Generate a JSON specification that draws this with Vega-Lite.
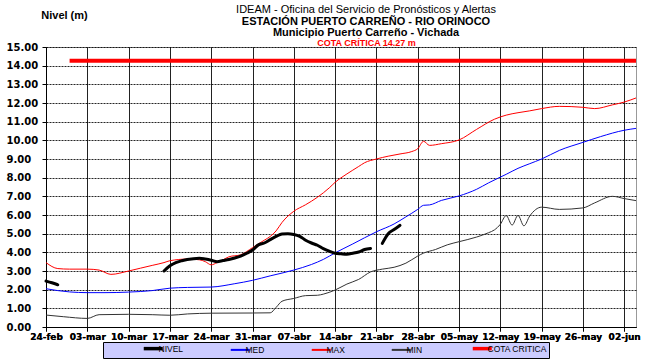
{
  "$schema": "https://vega.github.io/schema/vega-lite/v6.json",
  "width": 590,
  "height": 280,
  "autosize": "none",
  "padding": {"left": 46, "top": 47, "right": 19, "bottom": 33},
  "background": "white",
  "title": {
    "text": "IDEAM - Oficina del Servicio de Pronósticos y Alertas",
    "subtitle": ["ESTACIÓN PUERTO CARREÑO - RIO ORINOCO", "Municipio Puerto Carreño - Vichada"],
    "anchor": "middle",
    "frame": "group",
    "dx": 25,
    "offset": -29,
    "font": "Liberation Sans",
    "fontSize": 11,
    "fontWeight": "normal",
    "color": "#000",
    "subtitleFont": "Liberation Sans",
    "subtitleFontSize": 11,
    "subtitleFontWeight": "bold",
    "subtitleColor": "#000",
    "subtitlePadding": 1,
    "subtitleLineHeight": 11.5
  },
  "datasets": {
    "series": [
      {"d": "2015-02-24", "v": 2.46, "s": "NIVEL", "g": 1},
      {"d": "2015-02-25", "v": 2.37, "s": "NIVEL", "g": 1},
      {"d": "2015-02-26", "v": 2.26, "s": "NIVEL", "g": 1},
      {"d": "2015-03-16", "v": 3.0, "s": "NIVEL", "g": 2},
      {"d": "2015-03-17", "v": 3.28, "s": "NIVEL", "g": 2},
      {"d": "2015-03-18", "v": 3.45, "s": "NIVEL", "g": 2},
      {"d": "2015-03-19", "v": 3.55, "s": "NIVEL", "g": 2},
      {"d": "2015-03-21", "v": 3.66, "s": "NIVEL", "g": 2},
      {"d": "2015-03-22", "v": 3.68, "s": "NIVEL", "g": 2},
      {"d": "2015-03-23", "v": 3.64, "s": "NIVEL", "g": 2},
      {"d": "2015-03-24", "v": 3.58, "s": "NIVEL", "g": 2},
      {"d": "2015-03-25", "v": 3.5, "s": "NIVEL", "g": 2},
      {"d": "2015-03-26", "v": 3.56, "s": "NIVEL", "g": 2},
      {"d": "2015-03-27", "v": 3.62, "s": "NIVEL", "g": 2},
      {"d": "2015-03-28", "v": 3.7, "s": "NIVEL", "g": 2},
      {"d": "2015-03-29", "v": 3.8, "s": "NIVEL", "g": 2},
      {"d": "2015-03-30", "v": 3.95, "s": "NIVEL", "g": 2},
      {"d": "2015-03-31", "v": 4.12, "s": "NIVEL", "g": 2},
      {"d": "2015-04-01", "v": 4.4, "s": "NIVEL", "g": 2},
      {"d": "2015-04-02", "v": 4.5, "s": "NIVEL", "g": 2},
      {"d": "2015-04-03", "v": 4.68, "s": "NIVEL", "g": 2},
      {"d": "2015-04-04", "v": 4.85, "s": "NIVEL", "g": 2},
      {"d": "2015-04-05", "v": 4.98, "s": "NIVEL", "g": 2},
      {"d": "2015-04-06", "v": 5.0, "s": "NIVEL", "g": 2},
      {"d": "2015-04-07", "v": 4.96, "s": "NIVEL", "g": 2},
      {"d": "2015-04-08", "v": 4.86, "s": "NIVEL", "g": 2},
      {"d": "2015-04-09", "v": 4.65, "s": "NIVEL", "g": 2},
      {"d": "2015-04-10", "v": 4.5, "s": "NIVEL", "g": 2},
      {"d": "2015-04-11", "v": 4.38, "s": "NIVEL", "g": 2},
      {"d": "2015-04-12", "v": 4.2, "s": "NIVEL", "g": 2},
      {"d": "2015-04-13", "v": 4.06, "s": "NIVEL", "g": 2},
      {"d": "2015-04-14", "v": 3.95, "s": "NIVEL", "g": 2},
      {"d": "2015-04-15", "v": 3.92, "s": "NIVEL", "g": 2},
      {"d": "2015-04-16", "v": 3.9, "s": "NIVEL", "g": 2},
      {"d": "2015-04-17", "v": 3.95, "s": "NIVEL", "g": 2},
      {"d": "2015-04-18", "v": 4.02, "s": "NIVEL", "g": 2},
      {"d": "2015-04-19", "v": 4.15, "s": "NIVEL", "g": 2},
      {"d": "2015-04-20", "v": 4.21, "s": "NIVEL", "g": 2},
      {"d": "2015-04-22", "v": 4.48, "s": "NIVEL", "g": 3},
      {"d": "2015-04-23", "v": 5.0, "s": "NIVEL", "g": 3},
      {"d": "2015-04-24", "v": 5.22, "s": "NIVEL", "g": 3},
      {"d": "2015-04-25", "v": 5.45, "s": "NIVEL", "g": 3},

      {"d": "2015-02-24", "v": 2.05, "s": "MED", "g": 0},
      {"d": "2015-02-26", "v": 1.95, "s": "MED", "g": 0},
      {"d": "2015-02-28", "v": 1.88, "s": "MED", "g": 0},
      {"d": "2015-03-03", "v": 1.84, "s": "MED", "g": 0},
      {"d": "2015-03-06", "v": 1.84, "s": "MED", "g": 0},
      {"d": "2015-03-10", "v": 1.87, "s": "MED", "g": 0},
      {"d": "2015-03-14", "v": 1.95, "s": "MED", "g": 0},
      {"d": "2015-03-17", "v": 2.08, "s": "MED", "g": 0},
      {"d": "2015-03-20", "v": 2.12, "s": "MED", "g": 0},
      {"d": "2015-03-24", "v": 2.14, "s": "MED", "g": 0},
      {"d": "2015-03-28", "v": 2.32, "s": "MED", "g": 0},
      {"d": "2015-03-31", "v": 2.5, "s": "MED", "g": 0},
      {"d": "2015-04-03", "v": 2.74, "s": "MED", "g": 0},
      {"d": "2015-04-07", "v": 3.05, "s": "MED", "g": 0},
      {"d": "2015-04-10", "v": 3.35, "s": "MED", "g": 0},
      {"d": "2015-04-12", "v": 3.62, "s": "MED", "g": 0},
      {"d": "2015-04-14", "v": 3.97, "s": "MED", "g": 0},
      {"d": "2015-04-17", "v": 4.45, "s": "MED", "g": 0},
      {"d": "2015-04-21", "v": 5.1, "s": "MED", "g": 0},
      {"d": "2015-04-24", "v": 5.52, "s": "MED", "g": 0},
      {"d": "2015-04-26", "v": 5.9, "s": "MED", "g": 0},
      {"d": "2015-04-28", "v": 6.3, "s": "MED", "g": 0},
      {"d": "2015-04-29", "v": 6.52, "s": "MED", "g": 0},
      {"d": "2015-04-30", "v": 6.54, "s": "MED", "g": 0},
      {"d": "2015-05-02", "v": 6.78, "s": "MED", "g": 0},
      {"d": "2015-05-05", "v": 7.02, "s": "MED", "g": 0},
      {"d": "2015-05-08", "v": 7.38, "s": "MED", "g": 0},
      {"d": "2015-05-10", "v": 7.72, "s": "MED", "g": 0},
      {"d": "2015-05-13", "v": 8.18, "s": "MED", "g": 0},
      {"d": "2015-05-15", "v": 8.5, "s": "MED", "g": 0},
      {"d": "2015-05-17", "v": 8.75, "s": "MED", "g": 0},
      {"d": "2015-05-19", "v": 9.0, "s": "MED", "g": 0},
      {"d": "2015-05-22", "v": 9.46, "s": "MED", "g": 0},
      {"d": "2015-05-26", "v": 9.89, "s": "MED", "g": 0},
      {"d": "2015-05-29", "v": 10.2, "s": "MED", "g": 0},
      {"d": "2015-06-02", "v": 10.54, "s": "MED", "g": 0},
      {"d": "2015-06-04", "v": 10.64, "s": "MED", "g": 0},

      {"d": "2015-02-24", "v": 3.45, "s": "MAX", "g": 0},
      {"d": "2015-02-26", "v": 3.13, "s": "MAX", "g": 0},
      {"d": "2015-02-28", "v": 3.1, "s": "MAX", "g": 0},
      {"d": "2015-03-03", "v": 3.1, "s": "MAX", "g": 0},
      {"d": "2015-03-05", "v": 3.05, "s": "MAX", "g": 0},
      {"d": "2015-03-07", "v": 2.82, "s": "MAX", "g": 0},
      {"d": "2015-03-10", "v": 3.0, "s": "MAX", "g": 0},
      {"d": "2015-03-12", "v": 3.15, "s": "MAX", "g": 0},
      {"d": "2015-03-14", "v": 3.3, "s": "MAX", "g": 0},
      {"d": "2015-03-16", "v": 3.45, "s": "MAX", "g": 0},
      {"d": "2015-03-17", "v": 3.55, "s": "MAX", "g": 0},
      {"d": "2015-03-20", "v": 3.64, "s": "MAX", "g": 0},
      {"d": "2015-03-22", "v": 3.6, "s": "MAX", "g": 0},
      {"d": "2015-03-23", "v": 3.5, "s": "MAX", "g": 0},
      {"d": "2015-03-24", "v": 3.33, "s": "MAX", "g": 0},
      {"d": "2015-03-25", "v": 3.45, "s": "MAX", "g": 0},
      {"d": "2015-03-26", "v": 3.6, "s": "MAX", "g": 0},
      {"d": "2015-03-27", "v": 3.76, "s": "MAX", "g": 0},
      {"d": "2015-03-29", "v": 3.87, "s": "MAX", "g": 0},
      {"d": "2015-03-31", "v": 4.25, "s": "MAX", "g": 0},
      {"d": "2015-04-02", "v": 4.65, "s": "MAX", "g": 0},
      {"d": "2015-04-03", "v": 4.85, "s": "MAX", "g": 0},
      {"d": "2015-04-04", "v": 5.15, "s": "MAX", "g": 0},
      {"d": "2015-04-05", "v": 5.6, "s": "MAX", "g": 0},
      {"d": "2015-04-07", "v": 6.2, "s": "MAX", "g": 0},
      {"d": "2015-04-09", "v": 6.55, "s": "MAX", "g": 0},
      {"d": "2015-04-11", "v": 6.95, "s": "MAX", "g": 0},
      {"d": "2015-04-13", "v": 7.45, "s": "MAX", "g": 0},
      {"d": "2015-04-14", "v": 7.75, "s": "MAX", "g": 0},
      {"d": "2015-04-16", "v": 8.2, "s": "MAX", "g": 0},
      {"d": "2015-04-18", "v": 8.6, "s": "MAX", "g": 0},
      {"d": "2015-04-19", "v": 8.8, "s": "MAX", "g": 0},
      {"d": "2015-04-21", "v": 9.0, "s": "MAX", "g": 0},
      {"d": "2015-04-23", "v": 9.15, "s": "MAX", "g": 0},
      {"d": "2015-04-25", "v": 9.27, "s": "MAX", "g": 0},
      {"d": "2015-04-27", "v": 9.4, "s": "MAX", "g": 0},
      {"d": "2015-04-28", "v": 9.55, "s": "MAX", "g": 0},
      {"d": "2015-04-29", "v": 9.95, "s": "MAX", "g": 0},
      {"d": "2015-04-30", "v": 9.73, "s": "MAX", "g": 0},
      {"d": "2015-05-02", "v": 9.82, "s": "MAX", "g": 0},
      {"d": "2015-05-05", "v": 10.02, "s": "MAX", "g": 0},
      {"d": "2015-05-08", "v": 10.59, "s": "MAX", "g": 0},
      {"d": "2015-05-11", "v": 11.13, "s": "MAX", "g": 0},
      {"d": "2015-05-13", "v": 11.35, "s": "MAX", "g": 0},
      {"d": "2015-05-15", "v": 11.48, "s": "MAX", "g": 0},
      {"d": "2015-05-17", "v": 11.58, "s": "MAX", "g": 0},
      {"d": "2015-05-19", "v": 11.7, "s": "MAX", "g": 0},
      {"d": "2015-05-22", "v": 11.82, "s": "MAX", "g": 0},
      {"d": "2015-05-26", "v": 11.77, "s": "MAX", "g": 0},
      {"d": "2015-05-28", "v": 11.7, "s": "MAX", "g": 0},
      {"d": "2015-05-31", "v": 11.9, "s": "MAX", "g": 0},
      {"d": "2015-06-02", "v": 12.05, "s": "MAX", "g": 0},
      {"d": "2015-06-04", "v": 12.27, "s": "MAX", "g": 0},

      {"d": "2015-02-24", "v": 0.64, "s": "MIN", "g": 0},
      {"d": "2015-02-27", "v": 0.55, "s": "MIN", "g": 0},
      {"d": "2015-03-03", "v": 0.46, "s": "MIN", "g": 0},
      {"d": "2015-03-05", "v": 0.66, "s": "MIN", "g": 0},
      {"d": "2015-03-10", "v": 0.68, "s": "MIN", "g": 0},
      {"d": "2015-03-14", "v": 0.66, "s": "MIN", "g": 0},
      {"d": "2015-03-17", "v": 0.63, "s": "MIN", "g": 0},
      {"d": "2015-03-20", "v": 0.7, "s": "MIN", "g": 0},
      {"d": "2015-03-24", "v": 0.74, "s": "MIN", "g": 0},
      {"d": "2015-03-31", "v": 0.75, "s": "MIN", "g": 0},
      {"d": "2015-04-03", "v": 0.76, "s": "MIN", "g": 0},
      {"d": "2015-04-04", "v": 1.05, "s": "MIN", "g": 0},
      {"d": "2015-04-05", "v": 1.38, "s": "MIN", "g": 0},
      {"d": "2015-04-07", "v": 1.53, "s": "MIN", "g": 0},
      {"d": "2015-04-09", "v": 1.68, "s": "MIN", "g": 0},
      {"d": "2015-04-11", "v": 1.7, "s": "MIN", "g": 0},
      {"d": "2015-04-12", "v": 1.76, "s": "MIN", "g": 0},
      {"d": "2015-04-14", "v": 1.98, "s": "MIN", "g": 0},
      {"d": "2015-04-16", "v": 2.3, "s": "MIN", "g": 0},
      {"d": "2015-04-18", "v": 2.55, "s": "MIN", "g": 0},
      {"d": "2015-04-20", "v": 2.95, "s": "MIN", "g": 0},
      {"d": "2015-04-22", "v": 3.1, "s": "MIN", "g": 0},
      {"d": "2015-04-24", "v": 3.2, "s": "MIN", "g": 0},
      {"d": "2015-04-26", "v": 3.42, "s": "MIN", "g": 0},
      {"d": "2015-04-28", "v": 3.8, "s": "MIN", "g": 0},
      {"d": "2015-04-29", "v": 3.96, "s": "MIN", "g": 0},
      {"d": "2015-05-01", "v": 4.15, "s": "MIN", "g": 0},
      {"d": "2015-05-03", "v": 4.4, "s": "MIN", "g": 0},
      {"d": "2015-05-05", "v": 4.57, "s": "MIN", "g": 0},
      {"d": "2015-05-08", "v": 4.82, "s": "MIN", "g": 0},
      {"d": "2015-05-10", "v": 5.05, "s": "MIN", "g": 0},
      {"d": "2015-05-11", "v": 5.2, "s": "MIN", "g": 0},
      {"d": "2015-05-12", "v": 5.5, "s": "MIN", "g": 0},
      {"d": "2015-05-13", "v": 5.97, "s": "MIN", "g": 0},
      {"d": "2015-05-14", "v": 5.46, "s": "MIN", "g": 0},
      {"d": "2015-05-15", "v": 5.98, "s": "MIN", "g": 0},
      {"d": "2015-05-16", "v": 5.42, "s": "MIN", "g": 0},
      {"d": "2015-05-17", "v": 5.95, "s": "MIN", "g": 0},
      {"d": "2015-05-19", "v": 6.42, "s": "MIN", "g": 0},
      {"d": "2015-05-22", "v": 6.3, "s": "MIN", "g": 0},
      {"d": "2015-05-26", "v": 6.38, "s": "MIN", "g": 0},
      {"d": "2015-05-28", "v": 6.65, "s": "MIN", "g": 0},
      {"d": "2015-05-31", "v": 7.0, "s": "MIN", "g": 0},
      {"d": "2015-06-02", "v": 6.88, "s": "MIN", "g": 0},
      {"d": "2015-06-04", "v": 6.77, "s": "MIN", "g": 0},

      {"d": "2015-02-28", "v": 14.27, "s": "COTA CRITICA", "g": 0},
      {"d": "2015-06-04", "v": 14.27, "s": "COTA CRITICA", "g": 0}
    ]
  },
  "data": {"name": "series"},
  "encoding": {
    "x": {
      "field": "d", "type": "temporal",
      "scale": {"type": "utc", "domain": [{"year": 2015, "month": 2, "date": 24, "utc": true}, {"year": 2015, "month": 6, "date": 4, "utc": true}]},
      "axis": {
        "values": [
          {"year": 2015, "month": 2, "date": 24, "utc": true},
          {"year": 2015, "month": 3, "date": 3, "utc": true},
          {"year": 2015, "month": 3, "date": 10, "utc": true},
          {"year": 2015, "month": 3, "date": 17, "utc": true},
          {"year": 2015, "month": 3, "date": 24, "utc": true},
          {"year": 2015, "month": 3, "date": 31, "utc": true},
          {"year": 2015, "month": 4, "date": 7, "utc": true},
          {"year": 2015, "month": 4, "date": 14, "utc": true},
          {"year": 2015, "month": 4, "date": 21, "utc": true},
          {"year": 2015, "month": 4, "date": 28, "utc": true},
          {"year": 2015, "month": 5, "date": 5, "utc": true},
          {"year": 2015, "month": 5, "date": 12, "utc": true},
          {"year": 2015, "month": 5, "date": 19, "utc": true},
          {"year": 2015, "month": 5, "date": 26, "utc": true},
          {"year": 2015, "month": 6, "date": 2, "utc": true}
        ],
        "labelExpr": "utcFormat(datum.value, '%d') + '-' + ['ene','feb','mar','abr','may','jun','jul','ago','sep','oct','nov','dic'][utcmonth(datum.value)]",
        "labelFont": "DejaVu Sans", "labelFontWeight": "bold", "labelFontSize": 9, "labelColor": "#000",
        "labelPadding": 1, "labelOverlap": false, "labelFlush": false, "labelBound": false,
        "tickSize": 4, "tickColor": "#000", "domainColor": "#000",
        "grid": true, "gridColor": "#222", "gridWidth": 1,
        "title": null
      }
    },
    "y": {
      "field": "v", "type": "quantitative",
      "scale": {"domain": [0, 15], "nice": false},
      "axis": {
        "values": [0, 1, 2, 3, 4, 5, 6, 7, 8, 9, 10, 11, 12, 13, 14, 15],
        "format": ".2f",
        "labelFont": "DejaVu Sans", "labelFontWeight": "bold", "labelFontSize": 10, "labelColor": "#000",
        "labelAlign": "left", "labelPadding": 36, "labelBound": false, "labelOverlap": false,
        "tickSize": 4, "tickColor": "#000", "domainColor": "#000",
        "grid": true, "gridColor": "#000", "gridDash": [2, 1], "gridWidth": 1, "gridOpacity": 0.85,
        "title": "Nivel (m)", "titleAngle": 0, "titleX": 18, "titleY": -32,
        "titleAlign": "center", "titleBaseline": "middle",
        "titleFont": "Liberation Sans", "titleFontSize": 11, "titleFontWeight": "bold", "titleColor": "#000"
      }
    },
    "color": {
      "field": "s", "type": "nominal",
      "scale": {"domain": ["NIVEL", "MED", "MAX", "MIN", "COTA CRITICA"], "range": ["#000000", "#0000ff", "#ff0000", "#333333", "#ff0000"]},
      "legend": {
        "orient": "none", "legendX": 57, "legendY": 295,
        "direction": "horizontal", "columns": 5,
        "title": "\u00a0", "titleOrient": "left", "titlePadding": 44, "titleFontSize": 8, "titleFont": "Liberation Sans",
        "fillColor": "#ccccff", "strokeColor": "#000", "padding": 2,
        "symbolType": "stroke", "symbolSize": 361,
        "labelFont": "Liberation Sans", "labelFontSize": 8.5, "labelColor": "#000", "labelOffset": 1,
        "columnPadding": 42,
        "labelExpr": "datum.label == 'COTA CRITICA' ? datum.label + '\u00a0\u00a0\u00a0\u00a0\u00a0\u00a0\u00a0\u00a0\u00a0\u00a0\u00a0\u00a0' : datum.label",
        "encode": {
          "symbols": {
            "update": {
              "strokeWidth": {"signal": "datum.value == 'NIVEL' || datum.value == 'COTA CRITICA' ? 3.5 : 2"}
            }
          }
        }
      }
    }
  },
  "layer": [
    {
      "transform": [{"filter": "datum.s == 'MED' || datum.s == 'MAX' || datum.s == 'MIN'"}],
      "mark": {"type": "line", "interpolate": "monotone", "strokeWidth": 1},
      "encoding": {"detail": {"field": "g"}}
    },
    {
      "transform": [{"filter": "datum.s == 'COTA CRITICA'"}],
      "mark": {"type": "line", "strokeWidth": 4},
      "encoding": {
        "detail": {"field": "g"},
        "x": {
          "field": "d", "type": "temporal",
          "axis": {
            "orient": "top", "labels": false, "ticks": false, "domain": false, "grid": false,
            "title": "COTA CRÍTICA 14.27 m", "titleColor": "#ff0000", "titleFont": "Liberation Sans",
            "titleFontSize": 9, "titleFontWeight": "bold", "titleX": 320, "titleY": -5,
            "titleAlign": "center", "titleBaseline": "middle"
          }
        }
      }
    },
    {
      "transform": [{"filter": "datum.s == 'NIVEL'"}],
      "mark": {"type": "line", "interpolate": "monotone", "strokeWidth": 3, "strokeCap": "round"},
      "encoding": {"detail": {"field": "g"}}
    }
  ],
  "resolve": {"axis": {"x": "independent"}},
  "config": {
    "view": {"stroke": "#999", "strokeWidth": 1}
  }
}
